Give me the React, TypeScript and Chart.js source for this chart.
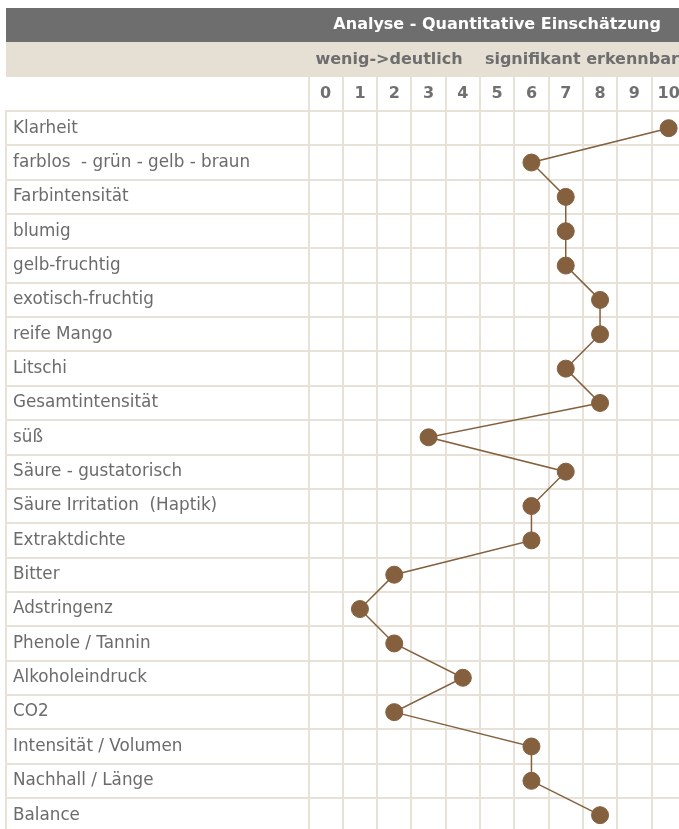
import React, { useEffect, useRef } from 'react';
import { Chart, registerables } from 'chart.js';

Chart.register(...registerables);

const TITLE = 'Analyse - Quantitative Einschätzung';
const SUBTITLE = 'wenig->deutlich    signifikant erkennbar';
const SCALE_TICKS = [0, 1, 2, 3, 4, 5, 6, 7, 8, 9, 10];
const ATTRIBUTES = [
  'Klarheit',
  'farblos  - grün - gelb - braun',
  'Farbintensität',
  'blumig',
  'gelb-fruchtig',
  'exotisch-fruchtig',
  'reife Mango',
  'Litschi',
  'Gesamtintensität',
  'süß',
  'Säure - gustatorisch',
  'Säure Irritation  (Haptik)',
  'Extraktdichte',
  'Bitter',
  'Adstringenz',
  'Phenole / Tannin',
  'Alkoholeindruck',
  'CO2',
  'Intensität / Volumen',
  'Nachhall / Länge',
  'Balance',
];
const VALUES = [10, 6, 7, 7, 7, 8, 8, 7, 8, 3, 7, 6, 6, 2, 1, 2, 4, 2, 6, 6, 8];

const W = 700;
const H = 860;
const GRID = '#e7e1d7';
const BROWN = '#84603e';
const DARK = '#6e6e6e';
const BEIGE = '#e5dfd4';

const headerPlugin = {
  id: 'tableHeader',
  beforeDraw(chart: any) {
    const { ctx, chartArea, width } = chart;
    ctx.save();
    ctx.fillStyle = DARK;
    ctx.fillRect(6, 8, width - 6, 34);
    ctx.fillStyle = BEIGE;
    ctx.fillRect(6, 42, width - 6, 35);
    const cx = (chartArea.left + chartArea.right) / 2;
    ctx.font = 'bold 16px "DejaVu Sans"';
    ctx.textAlign = 'center';
    ctx.textBaseline = 'middle';
    ctx.fillStyle = '#ffffff';
    ctx.fillText(TITLE, cx, 25);
    ctx.fillStyle = DARK;
    ctx.fillText(SUBTITLE, cx, 60);
    ctx.strokeStyle = GRID;
    ctx.lineWidth = 2;
    ctx.beginPath();
    ctx.moveTo(6, chartArea.top - 1);
    ctx.lineTo(6, chartArea.bottom);
    ctx.stroke();
    ctx.restore();
  },
};

export default function App() {
  const ref = useRef<HTMLCanvasElement | null>(null);

  useEffect(() => {
    if (!ref.current) return;
    const chart = new Chart(ref.current, {
      type: 'line',
      data: {
        labels: ATTRIBUTES,
        datasets: [
          {
            data: VALUES,
            borderColor: BROWN,
            borderWidth: 1.5,
            backgroundColor: BROWN,
            pointBackgroundColor: BROWN,
            pointBorderColor: BROWN,
            pointRadius: 8.5,
            pointBorderWidth: 1,
            tension: 0,
            fill: false,
            clip: false as any,
          },
        ],
      },
      options: {
        indexAxis: 'y',
        responsive: false,
        animation: false,
        layout: {
          padding: { left: 13, top: 77, right: W - 685.8, bottom: H - (111 + 21 * 34.35) },
        },
        plugins: {
          legend: { display: false },
          title: { display: false },
          tooltip: { enabled: false },
        },
        scales: {
          x: {
            type: 'category',
            labels: SCALE_TICKS as any,
            position: 'top',
            offset: true,
            grid: {
              offset: true,
              color: GRID,
              lineWidth: 2,
              drawTicks: true,
              tickLength: 34,
            },
            border: { display: false },
            ticks: {
              color: '#707070',
              font: { family: '"DejaVu Sans"', size: 16, weight: 'bold' },
              padding: -26.6,
              maxRotation: 0,
              autoSkip: false,
            },
            afterFit: (scale: any) => {
              scale.height = 34;
            },
          },
          y: {
            type: 'category',
            position: 'left',
            offset: true,
            grid: {
              offset: true,
              color: GRID,
              lineWidth: 2,
              drawTicks: true,
              tickLength: 302.5,
            },
            border: { display: false },
            ticks: {
              color: '#6b6b6b',
              crossAlign: 'far',
              font: { family: '"DejaVu Sans"', size: 16.8 },
              autoSkip: false,
              padding: 0,
            },
            afterFit: (scale: any) => {
              scale.width = 308.5 - 13;
            },
          },
        },
      } as any,
      plugins: [headerPlugin],
    });
    return () => chart.destroy();
  }, []);

  return (
    <div
      style={{
        position: 'fixed',
        left: 0,
        top: 0,
        width: 679,
        height: 829,
        overflow: 'hidden',
        background: '#ffffff',
      }}
    >
      <canvas ref={ref} width={W} height={H} style={{ width: W, height: H, display: 'block' }} />
    </div>
  );
}
